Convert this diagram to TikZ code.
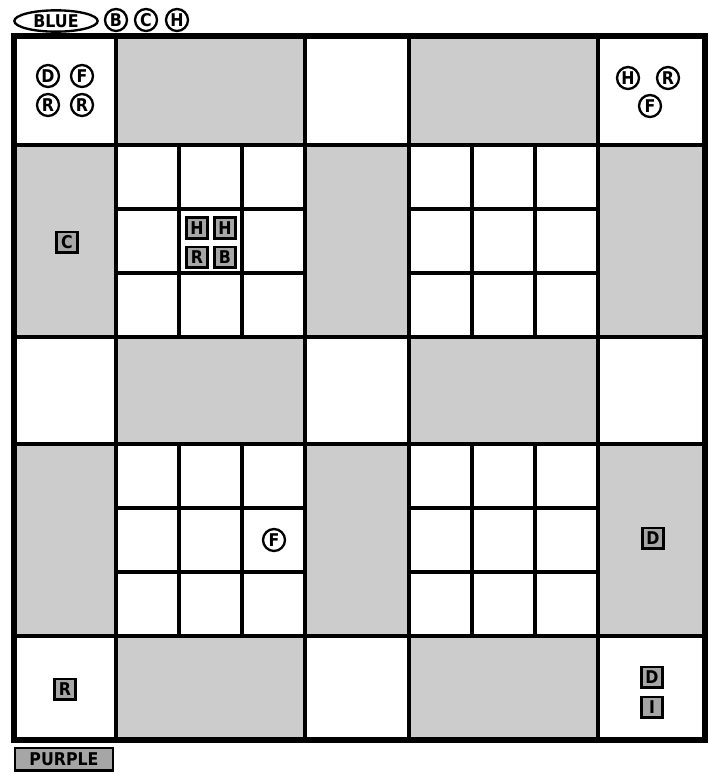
\documentclass[tikz,border=0pt]{standalone}
\usepackage{fontspec}
\usepackage{tikz}
\usetikzlibrary{shapes.geometric}
\newfontfamily\boardfont{DejaVu Sans Condensed}
\definecolor{boardgray}{HTML}{CCCCCC}
\definecolor{tokengray}{HTML}{A6A6A6}
\tikzset{
  letters/.style={font=\boardfont\fontsize{15}{15}\selectfont\bfseries},
  piece/.style={draw, circle, line width=2pt, fill=white, inner sep=0pt,
    minimum size=0.66cm, letters},
  token/.style={draw, rectangle, line width=2pt, fill=tokengray, inner sep=0pt,
    minimum size=0.62cm, letters},
  cellline/.style={line width=3.4pt},
}

\begin{document}
\begin{tikzpicture}[x=0.03cm,y=-0.03cm]
  \fill[white] (0,0) rectangle (709,774);
  \useasboundingbox (0,0) rectangle (709,774);
  % shaded arms
  \foreach \ya/\yb in {36/145, 337/444, 636/740}
    \foreach \xa/\xb in {116/305, 409/598}
      \fill[boardgray] (\xa,\ya) rectangle (\xb,\yb);
  \foreach \xa/\xb in {14/116, 305/409, 598/705}
    \foreach \ya/\yb in {145/337, 444/636}
      \fill[boardgray] (\xa,\ya) rectangle (\xb,\yb);
  % main lines
  \foreach \x in {116, 305, 409, 598}
    \draw[cellline] (\x,36) -- (\x,740);
  \foreach \y in {145, 337, 444, 636}
    \draw[cellline] (14,\y) -- (705,\y);
  % small 3x3 grids
  \foreach \xa/\ya/\w/\h in {116/145/189/192, 409/145/189/192, 116/444/189/192, 409/444/189/192} {
    \fill[white] (\xa,\ya) rectangle ++(\w,\h);
    \foreach \k in {1,2} {
      \draw[cellline] ({\xa+\k*\w/3},\ya) -- ({\xa+\k*\w/3},\ya+\h);
      \draw[cellline] (\xa,{\ya+\k*\h/3}) -- (\xa+\w,{\ya+\k*\h/3});
    }
    \draw[cellline] (\xa,\ya) rectangle ++(\w,\h);
  }
  \draw[line width=4.6pt] (14,36) rectangle (705,740);

  % legend
  \node[
    draw,
    ellipse,
    line width=2pt,
    inner sep=0pt,
    minimum width=2.5cm,
    minimum height=0.64cm,
    letters
  ] (blue) at (56,21) {BLUE};
  \node[piece] (legendB) at (116,20) {B};
  \node[piece] (legendC) at (146,20) {C};
  \node[piece] (legendH) at (177,20) {H};

  % pieces
  \node[piece] (cornerD) at (48,76) {D};
  \node[piece] (cornerF) at (82,76) {F};
  \node[piece] (cornerRa) at (48,105) {R};
  \node[piece] (cornerRb) at (82,105) {R};
  \node[piece] (rightH) at (628,78) {H};
  \node[piece] (rightR) at (668,78) {R};
  \node[piece] (rightF) at (650,106) {F};
  \node[piece] (lowF) at (274,540) {F};

  % tokens
  \node[token] (midHa) at (197,228) {H};
  \node[token] (midHb) at (225,228) {H};
  \node[token] (midR) at (197,257) {R};
  \node[token] (midB) at (225,257) {B};
  \node[token] (leftC) at (67,242) {C};
  \node[token] (rightD) at (653,538) {D};
  \node[token] (lowR) at (65,689) {R};
  \node[token] (lowD) at (652,677) {D};
  \node[token] (lowI) at (652,707) {I};

  \node[
    draw,
    rectangle,
    line width=2pt,
    fill=tokengray,
    inner sep=0pt,
    minimum width=2.95cm,
    minimum height=0.68cm,
    letters
  ] (purple) at (64,759) {PURPLE};
\end{tikzpicture}
\end{document}
